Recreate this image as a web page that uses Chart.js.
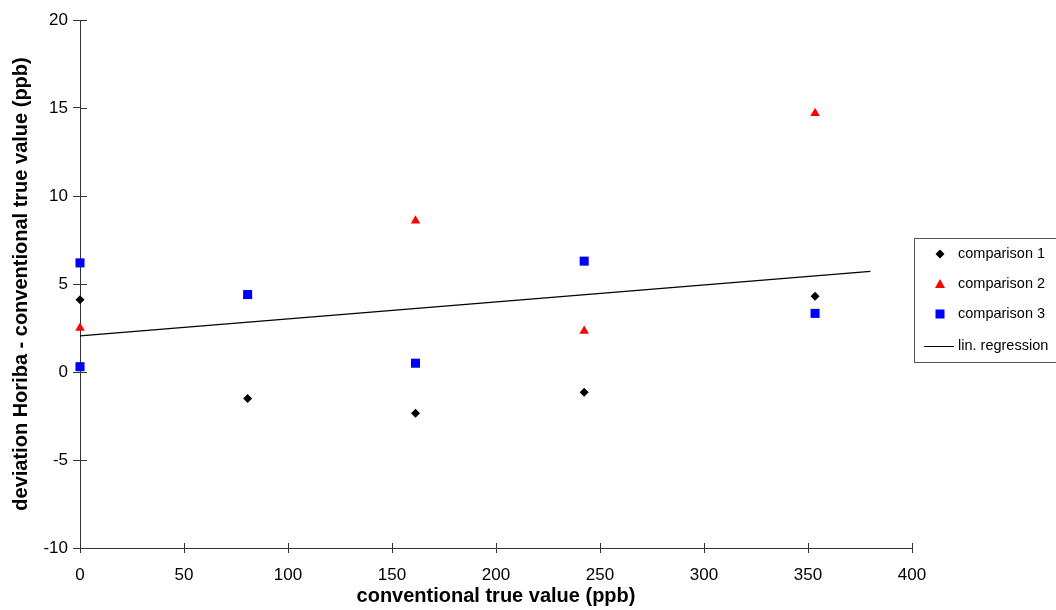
<!DOCTYPE html>
<html>
<head>
<meta charset="utf-8">
<script src="https://cdn.jsdelivr.net/npm/chart.js@4/dist/chart.umd.min.js"></script>
<style>
    body { margin: 0; background: #fff; }
    #wrap { width: 1056px; height: 610px; position: relative; }
</style>
</head>
<body>
<div id="wrap"><canvas id="myChart"></canvas></div>
<script>
// values
var comp1X = [0, 80.6, 161.3, 242.4, 353.4];
var comp1Y = [4.1, -1.5, -2.35, -1.15, 4.3];
var comp2X = [0, 80.6, 161.3, 242.4, 353.4];
var comp2Y = [2.5, 4.3, 8.6, 2.33, 14.7];
var comp3X = [0, 0, 80.6, 161.3, 242.4, 353.4];
var comp3Y = [6.2, 0.3, 4.4, 0.5, 6.3, 3.33];
var regX = [0, 380];
var regY = [2.05, 5.72];
var seriesNames = ['comparison 1', 'comparison 2', 'comparison 3', 'lin. regression'];
var xRange = [0, 400, 50];
var yRange = [-10, 20, 5];

function pts(xs, ys) {
    return xs.map(function (x, i) { return { x: x, y: ys[i] }; });
}

var FONT = "'Liberation Sans', Arial, sans-serif";
var AXIS = '#333';

function marker(ctx, kind, x, y) {
    ctx.beginPath();
    if (kind == 'diamond') {
        ctx.fillStyle = '#000';
        ctx.moveTo(x - 4.5, y); ctx.lineTo(x, y - 4.5); ctx.lineTo(x + 4.5, y); ctx.lineTo(x, y + 4.5);
    } else if (kind == 'triangle') {
        ctx.fillStyle = '#ff0000';
        ctx.moveTo(x, y - 5); ctx.lineTo(x + 5, y + 4); ctx.lineTo(x - 5, y + 4);
    } else {
        ctx.fillStyle = '#0000ff';
        ctx.rect(x - 4.5, y - 4.5, 9, 9);
    }
    ctx.closePath();
    ctx.fill();
}

var extras = {
    id: 'extras',
    afterDraw(chart) {
        var ctx = chart.ctx;
        var xs = chart.scales.x, ys = chart.scales.y;
        ctx.save();
        ctx.strokeStyle = AXIS;
        ctx.lineWidth = 1;
        // ticks cross the axis, draw the inner half
        ctx.beginPath();
        for (var v = yRange[0]; v <= yRange[1]; v += yRange[2]) {
            var py = Math.round(ys.getPixelForValue(v)) + 0.5;
            ctx.moveTo(xs.left, py); ctx.lineTo(xs.left + 7, py);
        }
        for (var u = xRange[0]; u <= xRange[1]; u += xRange[2]) {
            var px = Math.round(xs.getPixelForValue(u)) + 0.5;
            ctx.moveTo(px, ys.bottom); ctx.lineTo(px, ys.bottom - 5);
        }
        ctx.stroke();

        // legend box
        ctx.strokeStyle = '#555';
        ctx.strokeRect(914.5, 238.5, 150, 124);
        ctx.font = '14.5px ' + FONT;
        ctx.fillStyle = '#000';
        ctx.textBaseline = 'middle';
        var rows = [254, 284, 314, 346];
        var kinds = ['diamond', 'triangle', 'square'];
        for (var i = 0; i < 3; i++) {
            marker(ctx, kinds[i], 940, rows[i]);
            ctx.fillStyle = '#000';
            ctx.fillText(seriesNames[i], 958, rows[i]);
        }
        ctx.beginPath();
        ctx.strokeStyle = '#000';
        ctx.moveTo(924, rows[3] + 0.5); ctx.lineTo(954, rows[3] + 0.5);
        ctx.stroke();
        ctx.fillText(seriesNames[3], 958, rows[3]);
        ctx.restore();
    }
};

var ctx = document.getElementById('myChart').getContext('2d');
new Chart(ctx, {
    type: 'scatter',
    data: {
        datasets: [{
            label: seriesNames[0],
            data: pts(comp1X, comp1Y),
            pointStyle: 'rectRot',
            pointRadius: 4.5,
            backgroundColor: '#000',
            borderColor: '#000',
            borderWidth: 0,
            clip: false,
            order: 3
        }, {
            label: seriesNames[1],
            data: pts(comp2X, comp2Y),
            pointStyle: 'triangle',
            pointRadius: 5.5,
            backgroundColor: '#ff0000',
            borderColor: '#ff0000',
            borderWidth: 0,
            clip: false,
            order: 2
        }, {
            label: seriesNames[2],
            data: pts(comp3X, comp3Y),
            pointStyle: 'rect',
            pointRadius: 6.4,
            backgroundColor: '#0000ff',
            borderColor: '#0000ff',
            borderWidth: 0,
            clip: false,
            order: 1
        }, {
            label: seriesNames[3],
            type: 'line',
            data: pts(regX, regY),
            borderColor: '#000',
            borderWidth: 1.3,
            pointRadius: 0,
            fill: false,
            clip: false,
            order: 4
        }]
    },
    options: {
        responsive: true,
        maintainAspectRatio: false,
        animation: false,
        layout: { padding: { top: 20, right: 144, left: 0, bottom: 0 } },
        plugins: {
            legend: { display: false },
            tooltip: { enabled: false }
        },
        scales: {
            x: {
                type: 'linear',
                min: xRange[0],
                max: xRange[1],
                afterFit(scale) { scale.height = 62; },
                ticks: {
                    stepSize: xRange[2],
                    color: '#000',
                    font: { family: FONT, size: 17 },
                    padding: 12,
                    maxRotation: 0
                },
                grid: { drawOnChartArea: false, tickLength: 5, color: AXIS },
                border: { color: AXIS },
                title: {
                    display: true,
                    text: 'conventional true value (ppb)',
                    color: '#000',
                    font: { family: FONT, size: 20, weight: 'bold' },
                    padding: { top: 0, bottom: 2 }
                }
            },
            y: {
                type: 'linear',
                min: yRange[0],
                max: yRange[1],
                afterFit(scale) { scale.width = 80; },
                ticks: {
                    stepSize: yRange[2],
                    color: '#000',
                    font: { family: FONT, size: 17 },
                    padding: 5
                },
                grid: { drawOnChartArea: false, tickLength: 7, color: AXIS },
                border: { color: AXIS },
                title: {
                    display: true,
                    text: 'deviation Horiba - conventional true value (ppb)',
                    color: '#000',
                    font: { family: FONT, size: 20, weight: 'bold' },
                    padding: { top: 9, bottom: 0 }
                }
            }
        }
    },
    plugins: [extras]
});
</script>
</body>
</html>
